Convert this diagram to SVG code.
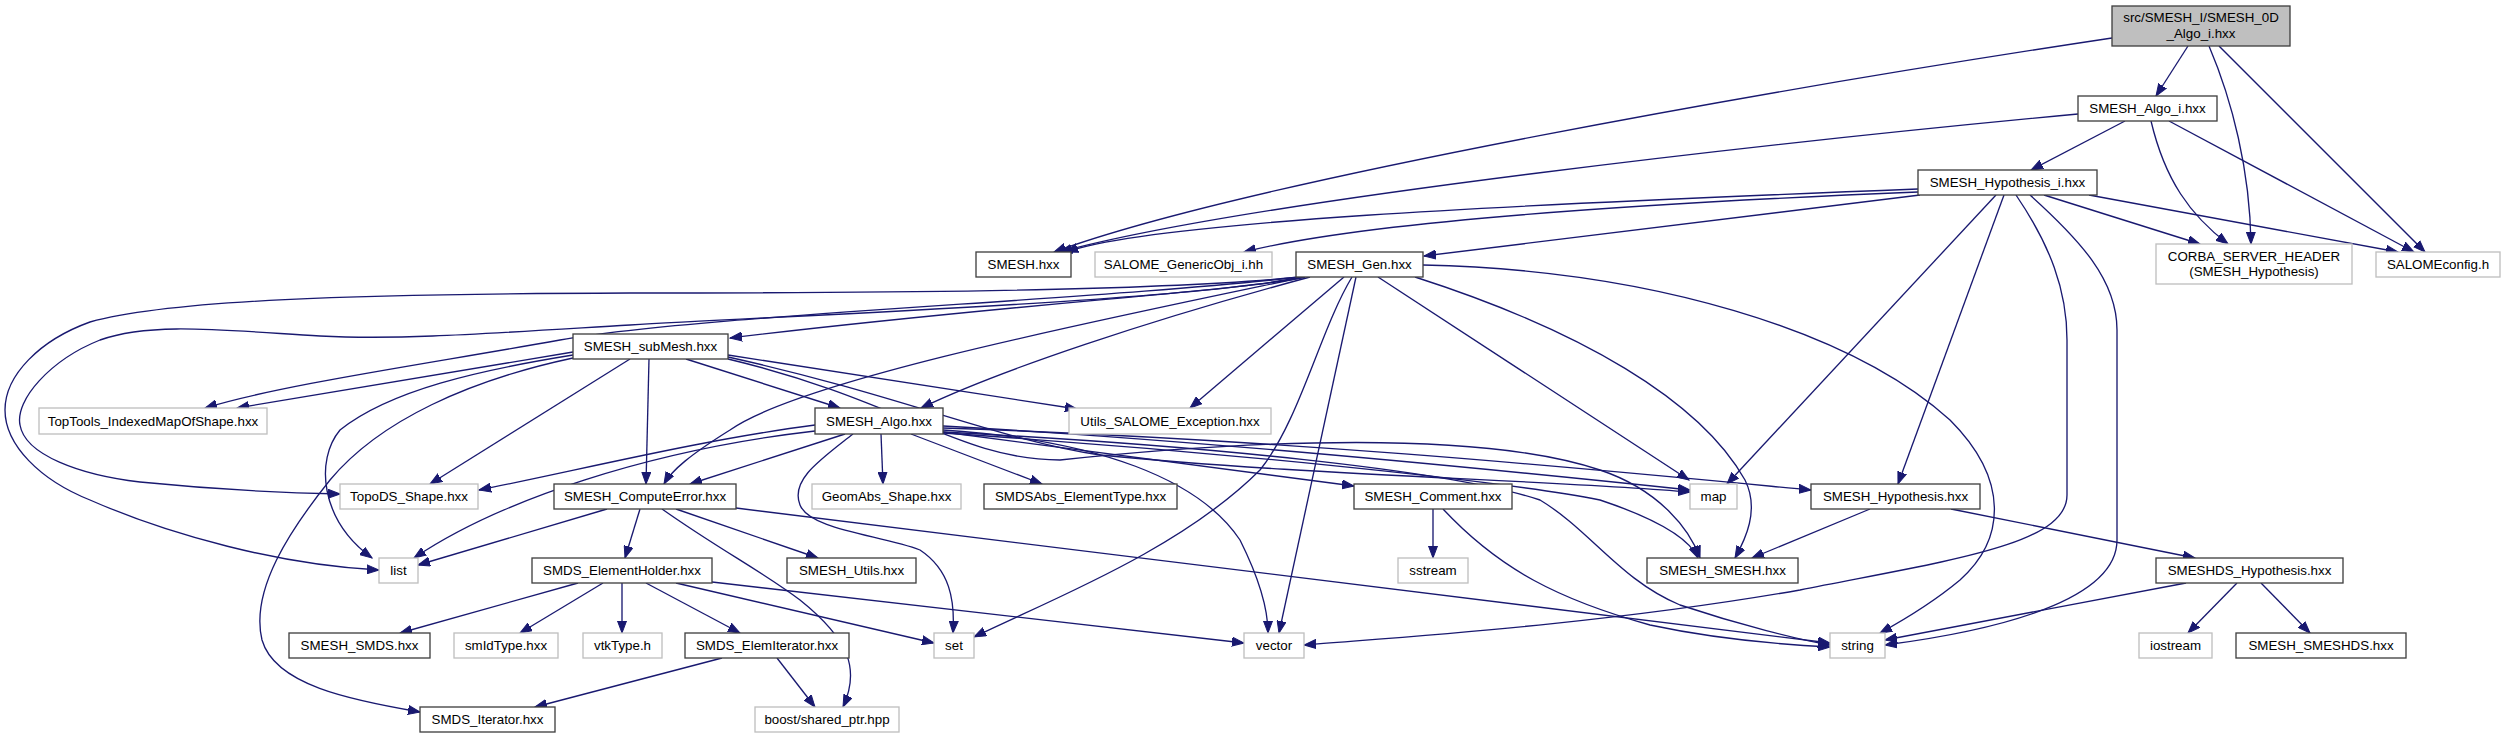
<svg xmlns="http://www.w3.org/2000/svg" width="2505" height="739" viewBox="0 0 2505 739">
<style>
.n rect{fill:#fff;stroke:#404040;stroke-width:1.33}
.u rect{fill:#fff;stroke:#bfbfbf;stroke-width:1.33}
.r rect{fill:#bfbfbf;stroke:#404040;stroke-width:1.33}
text{font-family:"Liberation Sans",Arial,sans-serif;font-size:13.33px;fill:#000;text-anchor:middle}
#edges path{fill:none;stroke:#191970;stroke-width:1.33;marker-end:url(#a)}
</style>
<defs>
<marker id="a" markerWidth="13" markerHeight="10" refX="12" refY="5" orient="auto" markerUnits="userSpaceOnUse">
<path d="M0,0.5 L12,5 L0,9.5 z" fill="#191970" stroke="#191970" stroke-width="1"/>
</marker>
</defs>
<rect width="2505" height="739" fill="#fff"/>
<g id="edges">
<path d="M2112,38 C1800,85 1250,180 1054,252"/>
<path d="M2188,46 L2156,96"/>
<path d="M2209,46 C2232,100 2250,170 2251,244"/>
<path d="M2219,46 L2425,252"/>
<path d="M2078,114 C1800,140 1250,200 1060,252"/>
<path d="M2125,121 L2031,170"/>
<path d="M2151,121 C2165,180 2190,215 2228,244"/>
<path d="M2169,121 L2414,252"/>
<path d="M1918,189 C1500,205 1150,222 1066,252"/>
<path d="M1918,192 C1600,205 1350,225 1244,252"/>
<path d="M1920,195 L1424,256"/>
<path d="M2044,195 L2200,244"/>
<path d="M2089,195 L2398,252"/>
<path d="M1996,195 L1727,484"/>
<path d="M2004,195 L1898,484"/>
<path d="M2016,195 C2050,245 2067,290 2067,340 L2067,495 C2067,545 1950,560 1800,590 C1600,625 1400,637 1304,645"/>
<path d="M2030,195 C2080,240 2117,280 2117,330 L2117,540 C2117,600 2000,630 1885,645"/>
<path d="M1305,277 C1250,290 1000,305 730,338"/>
<path d="M1300,277 C1150,292 850,293 630,293 C350,294 170,300 90,322 C40,340 5,375 5,410 C5,445 40,480 90,500 C170,535 280,565 379,570"/>
<path d="M1300,277 C1200,300 800,315 630,325 C480,334 400,340 320,336 C220,330 150,322 100,340 C50,360 15,400 20,425 C25,455 80,475 140,482 C220,490 290,493 340,494"/>
<path d="M1300,277 C1100,300 700,315 560,340 C420,365 280,385 205,408"/>
<path d="M1305,277 C1100,320 800,380 730,430 C690,455 672,470 664,484"/>
<path d="M1310,277 C1150,320 1000,370 921,408"/>
<path d="M1344,277 L1190,408"/>
<path d="M1352,277 C1320,330 1300,420 1260,470 C1180,550 1050,600 974,637"/>
<path d="M1356,277 L1279,633"/>
<path d="M1378,277 L1689,480"/>
<path d="M1415,277 C1580,330 1700,400 1745,480 C1760,510 1745,540 1735,558"/>
<path d="M1423,265 C1650,270 1850,330 1950,420 C2010,480 2005,540 1960,580 C1930,605 1900,622 1880,633"/>
<path d="M573,352 L237,408"/>
<path d="M630,359 L430,484"/>
<path d="M573,355 C480,370 390,390 340,430 C315,460 320,520 372,558"/>
<path d="M573,358 C470,380 380,420 330,480 C290,530 250,590 262,640 C275,685 350,700 420,712"/>
<path d="M649,359 L646,484"/>
<path d="M686,359 L840,408"/>
<path d="M728,355 L1077,409"/>
<path d="M728,357 C900,395 1000,440 1100,455 C1300,475 1550,480 1690,492"/>
<path d="M728,359 C900,400 960,460 1060,460 C1250,440 1480,430 1600,470 C1660,490 1690,530 1700,558"/>
<path d="M815,425 C700,440 580,470 479,490"/>
<path d="M815,431 C650,450 500,500 414,558"/>
<path d="M845,434 L690,484"/>
<path d="M881,434 L883,484"/>
<path d="M911,434 L1042,484"/>
<path d="M853,434 C820,460 790,480 800,505 C810,530 880,535 920,550 C950,570 955,600 953,633"/>
<path d="M943,430 C1100,440 1200,480 1240,540 C1260,580 1268,610 1268,633"/>
<path d="M943,432 C1200,445 1450,470 1540,500 C1590,530 1620,580 1680,605 C1740,625 1800,640 1830,645"/>
<path d="M943,426 C1200,440 1500,470 1690,490"/>
<path d="M943,433 C1200,450 1500,480 1600,500 C1660,520 1690,540 1698,558"/>
<path d="M943,428 C1300,440 1600,470 1811,490"/>
<path d="M943,432 L1354,486"/>
<path d="M1433,509 L1433,558"/>
<path d="M1443,509 C1500,570 1560,600 1650,625 C1720,640 1790,645 1830,647"/>
<path d="M1870,509 L1752,558"/>
<path d="M1951,509 L2195,558"/>
<path d="M2186,583 L1885,640"/>
<path d="M2237,583 L2188,633"/>
<path d="M2261,583 L2310,633"/>
<path d="M607,509 L418,565"/>
<path d="M640,509 L625,558"/>
<path d="M676,509 L818,558"/>
<path d="M662,509 C720,550 760,570 800,600 C850,640 860,670 843,707"/>
<path d="M736,508 L1830,643"/>
<path d="M578,583 L400,633"/>
<path d="M603,583 L520,633"/>
<path d="M622,583 L622,633"/>
<path d="M646,583 L740,633"/>
<path d="M676,583 L934,643"/>
<path d="M712,582 L1244,643"/>
<path d="M722,658 L535,707"/>
<path d="M777,658 L815,707"/>
</g>
<g id="root" class="r"><rect x="2112" y="6" width="178" height="40"/><text x="2201" y="22">src/SMESH_I/SMESH_0D</text><text x="2201" y="38">_Algo_i.hxx</text></g>
<g id="SMESH_Algo_i" class="n"><rect x="2078" y="96" width="139" height="25"/><text x="2147.5" y="113">SMESH_Algo_i.hxx</text></g>
<g id="SMESH_Hypothesis_i" class="n"><rect x="1918" y="170" width="179" height="25"/><text x="2007.5" y="187">SMESH_Hypothesis_i.hxx</text></g>
<g id="SMESH" class="n"><rect x="976" y="252" width="95" height="25"/><text x="1023.5" y="269">SMESH.hxx</text></g>
<g id="SALOME_GenericObj_i" class="u"><rect x="1095" y="252" width="177" height="25"/><text x="1183.5" y="269">SALOME_GenericObj_i.hh</text></g>
<g id="SMESH_Gen" class="n"><rect x="1296" y="252" width="127" height="25"/><text x="1359.5" y="269">SMESH_Gen.hxx</text></g>
<g id="CORBA_SERVER_HEADER" class="u"><rect x="2156" y="244" width="196" height="40"/><text x="2254" y="261">CORBA_SERVER_HEADER</text><text x="2254" y="276">(SMESH_Hypothesis)</text></g>
<g id="SALOMEconfig" class="u"><rect x="2376" y="252" width="124" height="25"/><text x="2438" y="269">SALOMEconfig.h</text></g>
<g id="SMESH_subMesh" class="n"><rect x="573" y="334" width="155" height="25"/><text x="650.5" y="351">SMESH_subMesh.hxx</text></g>
<g id="TopTools_IndexedMapOfShape" class="u"><rect x="39" y="408" width="228" height="26"/><text x="153" y="425.5">TopTools_IndexedMapOfShape.hxx</text></g>
<g id="SMESH_Algo" class="n"><rect x="815" y="408" width="128" height="26"/><text x="879" y="425.5">SMESH_Algo.hxx</text></g>
<g id="Utils_SALOME_Exception" class="u"><rect x="1069" y="408" width="202" height="26"/><text x="1170" y="425.5">Utils_SALOME_Exception.hxx</text></g>
<g id="TopoDS_Shape" class="u"><rect x="340" y="484" width="138" height="25"/><text x="409" y="501">TopoDS_Shape.hxx</text></g>
<g id="SMESH_ComputeError" class="n"><rect x="554" y="484" width="182" height="25"/><text x="645" y="501">SMESH_ComputeError.hxx</text></g>
<g id="GeomAbs_Shape" class="u"><rect x="812" y="484" width="149" height="25"/><text x="886.5" y="501">GeomAbs_Shape.hxx</text></g>
<g id="SMDSAbs_ElementType" class="n"><rect x="984" y="484" width="193" height="25"/><text x="1080.5" y="501">SMDSAbs_ElementType.hxx</text></g>
<g id="SMESH_Comment" class="n"><rect x="1354" y="484" width="158" height="25"/><text x="1433" y="501">SMESH_Comment.hxx</text></g>
<g id="map" class="u"><rect x="1690" y="484" width="47" height="25"/><text x="1713.5" y="501">map</text></g>
<g id="SMESH_Hypothesis" class="n"><rect x="1811" y="484" width="169" height="25"/><text x="1895.5" y="501">SMESH_Hypothesis.hxx</text></g>
<g id="list" class="u"><rect x="379" y="558" width="39" height="25"/><text x="398.5" y="575">list</text></g>
<g id="SMDS_ElementHolder" class="n"><rect x="532" y="558" width="180" height="25"/><text x="622" y="575">SMDS_ElementHolder.hxx</text></g>
<g id="SMESH_Utils" class="n"><rect x="787" y="558" width="129" height="25"/><text x="851.5" y="575">SMESH_Utils.hxx</text></g>
<g id="sstream" class="u"><rect x="1398" y="558" width="70" height="25"/><text x="1433" y="575">sstream</text></g>
<g id="SMESH_SMESH" class="n"><rect x="1647" y="558" width="151" height="25"/><text x="1722.5" y="575">SMESH_SMESH.hxx</text></g>
<g id="SMESHDS_Hypothesis" class="n"><rect x="2156" y="558" width="187" height="25"/><text x="2249.5" y="575">SMESHDS_Hypothesis.hxx</text></g>
<g id="SMESH_SMDS" class="n"><rect x="289" y="633" width="141" height="25"/><text x="359.5" y="650">SMESH_SMDS.hxx</text></g>
<g id="smIdType" class="u"><rect x="454" y="633" width="104" height="25"/><text x="506" y="650">smIdType.hxx</text></g>
<g id="vtkType" class="u"><rect x="583" y="633" width="79" height="25"/><text x="622.5" y="650">vtkType.h</text></g>
<g id="SMDS_ElemIterator" class="n"><rect x="685" y="633" width="164" height="25"/><text x="767" y="650">SMDS_ElemIterator.hxx</text></g>
<g id="set" class="u"><rect x="934" y="633" width="40" height="25"/><text x="954" y="650">set</text></g>
<g id="vector" class="u"><rect x="1244" y="633" width="60" height="25"/><text x="1274" y="650">vector</text></g>
<g id="string" class="u"><rect x="1830" y="633" width="55" height="25"/><text x="1857.5" y="650">string</text></g>
<g id="iostream" class="u"><rect x="2139" y="633" width="73" height="25"/><text x="2175.5" y="650">iostream</text></g>
<g id="SMESH_SMESHDS" class="n"><rect x="2236" y="633" width="170" height="25"/><text x="2321" y="650">SMESH_SMESHDS.hxx</text></g>
<g id="SMDS_Iterator" class="n"><rect x="420" y="707" width="135" height="25"/><text x="487.5" y="724">SMDS_Iterator.hxx</text></g>
<g id="boost_shared_ptr" class="u"><rect x="755" y="707" width="144" height="25"/><text x="827" y="724">boost/shared_ptr.hpp</text></g>
</svg>
